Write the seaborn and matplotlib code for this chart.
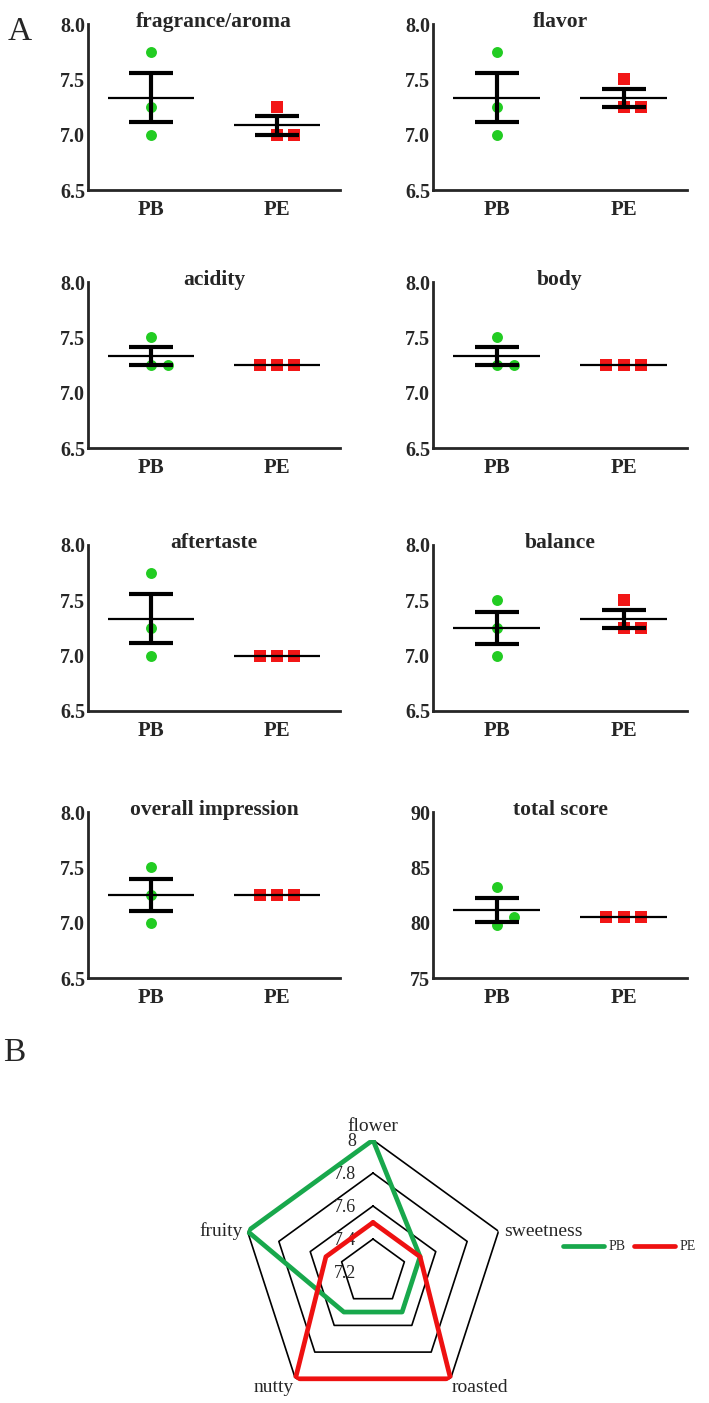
import numpy as np
import pandas as pd
import matplotlib
matplotlib.use('Agg')
import matplotlib.pyplot as plt
import seaborn as sns

sns.set_style('white')
plt.rcParams['font.family'] = ['Liberation Serif', 'DejaVu Serif']

# panel A: cupping scores of three replicates per treatment
attributes = ['fragrance/aroma', 'flavor', 'acidity', 'body',
              'aftertaste', 'balance', 'overall impression', 'total score']
groups = ['PB', 'PE']
pb_scores = [[7.75, 7.25, 7.0], [7.75, 7.25, 7.0], [7.5, 7.25, 7.25], [7.5, 7.25, 7.25],
             [7.75, 7.25, 7.0], [7.5, 7.25, 7.0], [7.5, 7.25, 7.0], [83.25, 79.75, 80.5]]
pe_scores = [[7.25, 7.0, 7.0], [7.5, 7.25, 7.25], [7.25, 7.25, 7.25], [7.25, 7.25, 7.25],
             [7.0, 7.0, 7.0], [7.5, 7.25, 7.25], [7.25, 7.25, 7.25], [80.5, 80.5, 80.5]]
y_ticks = [[6.5, 7.0, 7.5, 8.0]] * 7 + [[75, 80, 85, 90]]
y_labels = [['6.5', '7.0', '7.5', '8.0']] * 7 + [['75', '80', '85', '90']]

# panel B: radar profile
flavor_notes = ['flower', 'sweetness', 'roasted', 'nutty', 'fruity']
pb_profile = [8.0, 7.5, 7.5, 7.5, 8.0]
pe_profile = [7.5, 7.5, 8.0, 8.0, 7.5]
radar_levels = [7.2, 7.4, 7.6, 7.8, 8.0]

green = '#22cc22'
red = '#f21616'
radar_green = '#18a84c'
radar_red = '#ee1111'


def dodge(values, span, step=0.135):
    # spread overlapping points sideways like a column scatter
    placed = []
    offs = []
    for v in values:
        for off in (0, step, -step, 2 * step, -2 * step):
            if all(abs(v - pv) >= 0.06 * span or abs(off - po) > step * 0.5 for pv, po in placed):
                break
        placed.append((v, off))
        offs.append(off)
    return offs


rows = []
for a, attr in enumerate(attributes):
    span = y_ticks[a][-1] - y_ticks[a][0]
    for g, scores in enumerate([pb_scores[a], pe_scores[a]]):
        for val, off in zip(scores, dodge(scores, span)):
            rows.append({'attribute': attr, 'group': groups[g], 'score': val, 'x': g + off})
df = pd.DataFrame(rows)

fig = plt.figure(figsize=(7.09, 14.03), dpi=100)
W, H = 709, 1403
col_left = [88, 433]
col_width = [252, 254]
row_top = [24, 282, 545, 812]
ax_h = 166

for a, attr in enumerate(attributes):
    r, c = divmod(a, 2)
    ax = fig.add_axes([col_left[c] / W, 1 - (row_top[r] + ax_h) / H, col_width[c] / W, ax_h / H])
    sub = df[df['attribute'] == attr]
    sns.scatterplot(data=sub[sub['group'] == 'PB'], x='x', y='score', color=green, marker='o',
                    s=62, linewidth=0, ax=ax, zorder=2)
    sns.scatterplot(data=sub[sub['group'] == 'PE'], x='x', y='score', color=red, marker='s',
                    s=66, linewidth=0, ax=ax, zorder=2)
    for g, grp in enumerate(groups):
        vals = np.array(sub.loc[sub['group'] == grp, 'score'])
        m = vals.mean()
        sem = vals.std(ddof=1) / np.sqrt(len(vals))
        ax.hlines(m, g - 0.34, g + 0.34, color='black', lw=1.6, zorder=3)
        if sem > 0:
            ax.errorbar(g, m, yerr=sem, fmt='none', ecolor='black', elinewidth=3,
                        capsize=16, capthick=3, zorder=3)
    ax.set_xlim(-0.5, 1.5)
    ax.set_ylim(y_ticks[a][0], y_ticks[a][-1])
    ax.set_yticks(y_ticks[a])
    ax.set_yticklabels(y_labels[a])
    ax.set_xticks([0, 1])
    ax.set_xticklabels(groups)
    ax.set_xlabel('')
    ax.set_ylabel('')
    sns.despine(ax=ax)
    for s in ['left', 'bottom']:
        ax.spines[s].set_linewidth(2)
    ax.tick_params(axis='y', direction='in', length=5, width=2, pad=2, labelsize=14.5)
    ax.tick_params(axis='x', direction='in', length=7, width=1.5, pad=7, labelsize=15)
    for lab in ax.get_xticklabels() + ax.get_yticklabels():
        lab.set_fontweight('bold')
    ax.set_title(attr, fontsize=15.5, fontweight='bold', pad=-2)

fig.text(8 / W, 1 - 32 / H, 'A', fontsize=24, va='center', ha='left')
fig.text(3 / W, 1 - 1053 / H, 'B', fontsize=24, va='center', ha='left')

# radar chart
R = 132
cx, cy = 373, 1272
rax = fig.add_axes([(cx - R) / W, 1 - (cy + R) / H, 2 * R / W, 2 * R / H], projection='polar')
rax.set_theta_offset(np.pi / 2)
rax.set_theta_direction(-1)
angles = np.linspace(0, 2 * np.pi, len(flavor_notes), endpoint=False)
closed = np.append(angles, angles[0])
for lvl in radar_levels[1:]:
    rax.plot(closed, [lvl] * len(closed), color='black', lw=1.2, zorder=1)

radar_df = pd.DataFrame({
    'theta': np.concatenate([closed, closed]),
    'score': pb_profile + pb_profile[:1] + pe_profile + pe_profile[:1],
    'group': ['PB'] * len(closed) + ['PE'] * len(closed),
})
for grp, col in zip(groups, [radar_green, radar_red]):
    sns.lineplot(data=radar_df[radar_df['group'] == grp], x='theta', y='score', sort=False,
                 estimator=None, color=col, lw=3.4, ax=rax, label=grp, legend=False, zorder=3)

rax.set_ylim(radar_levels[0], radar_levels[-1])
rax.grid(False)
rax.spines['polar'].set_visible(False)
rax.set_xticks([])
rax.set_yticks([])
rax.set_xlabel('')
rax.set_ylabel('')
rax.patch.set_alpha(0)

for lvl in radar_levels:
    rax.annotate(f'{lvl:g}', xy=(0, lvl), xytext=(-12, -1), textcoords='offset points',
                 ha='right', va='center', fontsize=13, zorder=2)

label_offsets = [(0, 10, 'center', 'center'), (4, 0, 'left', 'center'),
                 (1, -6, 'left', 'center'), (-1, -6, 'right', 'center'),
                 (-3, 0, 'right', 'center')]
for ang, note, (dx, dy, ha, va) in zip(angles, flavor_notes, label_offsets):
    rax.annotate(note, xy=(ang, radar_levels[-1]), xytext=(dx, dy), textcoords='offset points',
                 ha=ha, va=va, fontsize=14, annotation_clip=False)

handles, labels = rax.get_legend_handles_labels()
fig.legend(handles, labels, loc='center left', bbox_to_anchor=(550 / W, 1 - 1247 / H), ncol=2,
           frameon=False, handlelength=3.0, handletextpad=0.3, columnspacing=0.6, fontsize=10)

fig.savefig('out.png', dpi=100)
